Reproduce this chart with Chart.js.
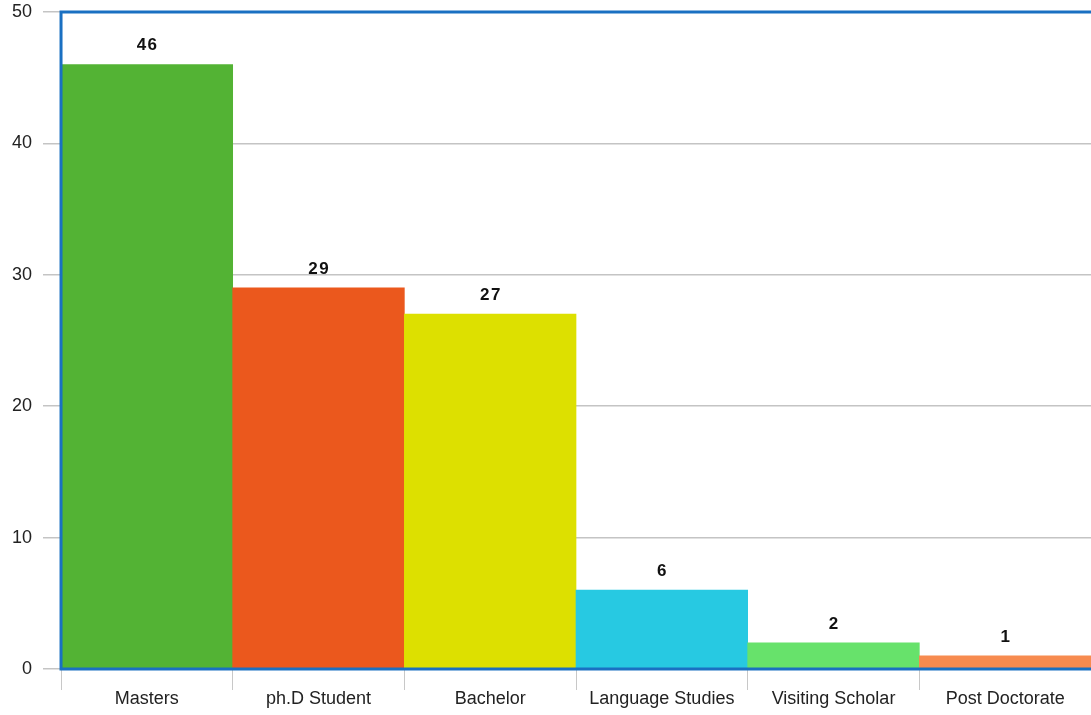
<!DOCTYPE html>
<html lang="en">
<head>
  <meta charset="UTF-8" />
  <title>Students by Program</title>
  <script src="https://cdn.jsdelivr.net/npm/chart.js"></script>
  <style>
    html, body { margin: 0; padding: 0; background: #fff; }
    #chart { display: block; }
  </style>
</head>
<body>
  <canvas id="chart" width="1091" height="715"></canvas>

  <script>
    const programs = ['Masters', 'ph.D Student', 'Bachelor', 'Language Studies', 'Visiting Scholar', 'Post Doctorate'];
    const counts = [46, 29, 27, 6, 2, 1];
    const barColors = ['#53b334', '#eb581d', '#dde000', '#27c9e2', '#67e26b', '#f78b4f'];
    const yTicks = [0, 10, 20, 30, 40, 50];

    const frameBlue = '#1a70c2';

    // blue frame on left, top and bottom of the plot area
    const framePlugin = {
      id: 'frame',
      afterDatasetsDraw(chart) {
        const { ctx, chartArea: a } = chart;
        ctx.save();
        ctx.strokeStyle = frameBlue;
        ctx.lineWidth = 3;
        ctx.beginPath();
        ctx.moveTo(a.right + 5, a.top);
        ctx.lineTo(a.left, a.top);
        ctx.lineTo(a.left, a.bottom);
        ctx.lineTo(a.right + 5, a.bottom);
        ctx.stroke();
        ctx.restore();
      }
    };

    // value above each bar
    const valueLabels = {
      id: 'valueLabels',
      afterDatasetsDraw(chart) {
        const { ctx } = chart;
        const meta = chart.getDatasetMeta(0);
        ctx.save();
        ctx.font = 'bold 17px "Liberation Sans", Arial, sans-serif';
        ctx.fillStyle = '#111';
        ctx.textAlign = 'center';
        ctx.textBaseline = 'alphabetic';
        meta.data.forEach((bar, i) => {
          const txt = String(counts[i]).split('').join('\u200a');
          ctx.fillText(txt, bar.x, bar.y - 14);
        });
        ctx.restore();
      }
    };

    new Chart(document.getElementById('chart'), {
      type: 'bar',
      data: {
        labels: programs,
        datasets: [{
          data: counts,
          backgroundColor: barColors,
          borderWidth: 0,
          categoryPercentage: 1.0,
          barPercentage: 1.0
        }]
      },
      options: {
        responsive: false,
        animation: false,
        layout: { padding: { top: 0, right: -2, left: 1, bottom: 7 } },
        plugins: {
          legend: { display: false },
          tooltip: { enabled: false }
        },
        scales: {
          x: {
            offset: true,
            grid: {
              offset: true,
              drawOnChartArea: false,
              drawTicks: true,
              tickLength: 21,
              color: '#c8c8c8'
            },
            border: { display: false },
            ticks: {
              color: '#222',
              padding: 0,
              font: { family: '"Liberation Sans", Arial, sans-serif', size: 18, lineHeight: 1.0 }
            }
          },
          y: {
            min: 0,
            max: 50,
            afterBuildTicks(axis) {
              axis.ticks = yTicks.map(v => ({ value: v }));
            },
            grid: {
              color: '#c4c4c4',
              lineWidth: 1.5,
              tickLength: 18
            },
            border: { display: false },
            ticks: {
              color: '#222',
              padding: 11,
              // tiny line height keeps the plot top close to the canvas edge
              font: { family: '"Liberation Sans", Arial, sans-serif', size: 18, lineHeight: 0.1 }
            }
          }
        }
      },
      plugins: [framePlugin, valueLabels]
    });
  </script>
</body>
</html>
